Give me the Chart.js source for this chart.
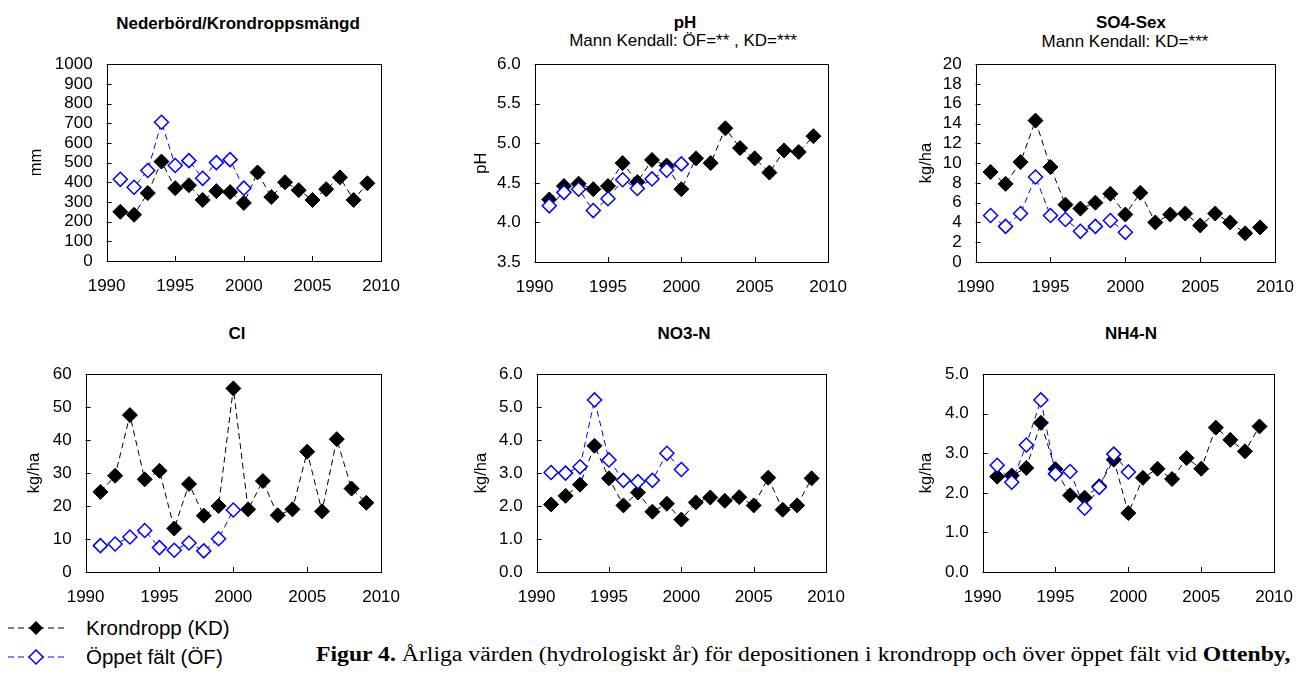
<!DOCTYPE html>
<html>
<head>
<meta charset="utf-8">
<script src="https://cdn.jsdelivr.net/npm/chart.js@4.4.0/dist/chart.umd.min.js"></script>
<style>
  body { margin: 0; background: #fff; font-family: "Liberation Sans", Arial, sans-serif; }
  #page { position: relative; width: 1302px; height: 675px; overflow: hidden; }
  .panel { position: absolute; }
  .lbl { position: absolute; transform: translate(-50%, -50%); white-space: nowrap; line-height: 1; color: #000; }
  .ttl { font-weight: bold; font-size: 17px; }
  .sub { font-size: 17px; }
  .leg { position: absolute; left: 8px; display: flex; align-items: center; font-size: 20.5px; }
  .leg svg { margin-right: 20px; }
  #caption { position: absolute; left: 316px; top: 643px; font-family: "Liberation Serif", "Times New Roman", serif; font-size: 20px; white-space: nowrap; transform-origin: 0 50%; }
</style>
</head>
<body>
<div id="page">
  <div class="lbl ttl" style="left:238px;top:23px">Nederbörd/Krondroppsmängd</div>
  <div class="lbl ttl" style="left:685px;top:22px">pH</div>
  <div class="lbl sub" style="left:683px;top:40px">Mann Kendall: ÖF=** , KD=***</div>
  <div class="lbl ttl" style="left:1131px;top:22px">SO4-Sex</div>
  <div class="lbl sub" style="left:1125px;top:41px">Mann Kendall: KD=***</div>
  <div class="lbl ttl" style="left:237px;top:333px">Cl</div>
  <div class="lbl ttl" style="left:684px;top:333px">NO3-N</div>
  <div class="lbl ttl" style="left:1131px;top:333px">NH4-N</div>

  <div class="panel" id="p1"><canvas id="c1"></canvas></div>
  <div class="panel" id="p2"><canvas id="c2"></canvas></div>
  <div class="panel" id="p3"><canvas id="c3"></canvas></div>
  <div class="panel" id="p4"><canvas id="c4"></canvas></div>
  <div class="panel" id="p5"><canvas id="c5"></canvas></div>
  <div class="panel" id="p6"><canvas id="c6"></canvas></div>

  <div class="leg" style="top:616px">
    <svg width="58" height="20"><line x1="0" y1="10" x2="58" y2="10" stroke="#000" stroke-width="1" stroke-dasharray="6,4"/><polygon points="28,3 35,10 28,17 21,10" fill="#000"/></svg>
    <span>Krondropp (KD)</span>
  </div>
  <div class="leg" style="top:645px">
    <svg width="58" height="20"><line x1="0" y1="10" x2="58" y2="10" stroke="#0000ff" stroke-width="1" stroke-dasharray="6,4"/><polygon points="28,3 35,10 28,17 21,10" fill="#fff" stroke="#0000ff" stroke-width="1.5"/></svg>
    <span>Öppet fält (ÖF)</span>
  </div>
  <div id="caption"><b>Figur 4.</b> Årliga värden (hydrologiskt år) för depositionen i krondropp och över öppet fält vid <b>Ottenby,</b></div>
</div>

<script>
const years = [1991, 1992, 1993, 1994, 1995, 1996, 1997, 1998, 1999, 2000, 2001, 2002, 2003, 2004, 2005, 2006, 2007, 2008, 2009]
const yearsOF = [1991, 1992, 1993, 1994, 1995, 1996, 1997, 1998, 1999, 2000]
const xTicks = [1990, 1995, 2000, 2005, 2010]

// Nederbörd / krondroppsmängd, mm
const nedKD = [250, 235, 345, 505, 370, 385, 310, 355, 350, 295, 450, 325, 400, 360, 310, 365, 425, 310, 395]
const nedOF = [415, 375, 460, 705, 485, 510, 420, 500, 515, 370]
// pH
const phKD = [4.29, 4.46, 4.49, 4.42, 4.46, 4.75, 4.51, 4.79, 4.72, 4.42, 4.81, 4.75, 5.19, 4.94, 4.81, 4.63, 4.91, 4.89, 5.09]
const phOF = [4.21, 4.38, 4.42, 4.15, 4.30, 4.54, 4.43, 4.55, 4.66, 4.74]
// SO4-S ex, kg/ha
const so4KD = [9.1, 7.9, 10.1, 14.3, 9.6, 5.8, 5.4, 6.0, 6.9, 4.8, 7.0, 4.0, 4.8, 4.9, 3.7, 4.9, 4.0, 2.9, 3.5]
const so4OF = [4.7, 3.6, 4.9, 8.6, 4.7, 4.3, 3.1, 3.6, 4.2, 3.0]
// Cl, kg/ha
const clKD = [24.3, 29.2, 47.6, 28.1, 30.7, 13.2, 26.7, 17.1, 20.0, 55.7, 19.0, 27.6, 17.2, 19.0, 36.5, 18.4, 40.3, 25.3, 21.0]
const clOF = [8.0, 8.5, 10.6, 12.6, 7.4, 6.6, 8.8, 6.4, 10.1, 18.8]
// NO3-N, kg/ha
const no3KD = [2.05, 2.31, 2.65, 3.83, 2.84, 2.02, 2.41, 1.83, 2.07, 1.59, 2.11, 2.26, 2.16, 2.27, 2.02, 2.86, 1.89, 2.02, 2.84]
const no3OF = [3.02, 3.00, 3.19, 5.22, 3.40, 2.78, 2.74, 2.78, 3.60, 3.11]
// NH4-N, kg/ha
const nh4KD = [2.41, 2.44, 2.63, 3.77, 2.60, 1.94, 1.88, 2.17, 2.84, 1.49, 2.38, 2.61, 2.35, 2.88, 2.61, 3.65, 3.34, 3.05, 3.68]
const nh4OF = [2.70, 2.27, 3.21, 4.35, 2.48, 2.54, 1.61, 2.14, 2.98, 2.53]

const panels = [
  { id: 1, kd: nedKD, of: nedOF, yTitle: 'mm', min: 0, max: 1000, step: 100, dec: 0, L: 107, R: 389, T: 52, B: 261, dx: 70 },
  { id: 2, kd: phKD, of: phOF, yTitle: 'pH', min: 3.5, max: 6, step: 0.5, dec: 1, L: 535, R: 836, T: 52, B: 262, dx: 53 },
  { id: 3, kd: so4KD, of: so4OF, yTitle: 'kg/ha', min: 0, max: 20, step: 2, dec: 0, L: 976, R: 1283, T: 52, B: 262, dx: 49 },
  { id: 4, kd: clKD, of: clOF, yTitle: 'kg/ha', min: 0, max: 60, step: 10, dec: 0, L: 86, R: 389, T: 362, B: 572, dx: 51 },
  { id: 5, kd: no3KD, of: no3OF, yTitle: 'kg/ha', min: 0, max: 6, step: 1, dec: 1, L: 537, R: 834, T: 362, B: 572, dx: 55 },
  { id: 6, kd: nh4KD, of: nh4OF, yTitle: 'kg/ha', min: 0, max: 5, step: 1, dec: 1, L: 983, R: 1282, T: 362, B: 572, dx: 56 }
]

const PAD_TOP = 12, PAD_RIGHT = 26, X_AXIS_H = 42

// box around plot area + short inward tick marks
const frame = {
  id: 'frame',
  beforeDatasetsDraw(chart) {
    const { ctx, chartArea: a, scales: { x, y } } = chart
    ctx.save()
    ctx.strokeStyle = '#000'
    ctx.lineWidth = 1
    ctx.strokeRect(Math.round(a.left) + 0.5, Math.round(a.top) + 0.5, Math.round(a.right - a.left), Math.round(a.bottom - a.top))
    ctx.beginPath()
    x.ticks.forEach(t => {
      const px = Math.round(x.getPixelForValue(t.value)) + 0.5
      ctx.moveTo(px, a.bottom)
      ctx.lineTo(px, a.bottom - 5)
    })
    y.ticks.forEach(t => {
      const py = Math.round(y.getPixelForValue(t.value)) + 0.5
      ctx.moveTo(a.left, py)
      ctx.lineTo(a.left + 5, py)
    })
    ctx.stroke()
    ctx.restore()
  }
}

panels.forEach(p => {
  const axisW = p.dx + 9.6
  const left = p.L - axisW
  const top = p.T - PAD_TOP
  const w = Math.round(p.R - left + PAD_RIGHT)
  const h = Math.round(p.B - top + X_AXIS_H)
  const div = document.getElementById('p' + p.id)
  div.style.left = left + 'px'
  div.style.top = top + 'px'
  const canvas = document.getElementById('c' + p.id)
  canvas.width = w
  canvas.height = h

  new Chart(canvas, {
    type: 'line',
    data: {
      datasets: [
        {
          label: 'Öppet fält (ÖF)',
          data: yearsOF.map((yr, i) => ({ x: yr, y: p.of[i] })),
          borderColor: '#0000ff',
          borderWidth: 1,
          borderDash: [6, 4],
          pointStyle: 'rectRot',
          pointRadius: 7,
          pointBackgroundColor: '#fff',
          pointBorderColor: '#0000ff',
          pointBorderWidth: 1.5
        },
        {
          label: 'Krondropp (KD)',
          data: years.map((yr, i) => ({ x: yr, y: p.kd[i] })),
          borderColor: '#000',
          borderWidth: 1,
          borderDash: [6, 4],
          pointStyle: 'rectRot',
          pointRadius: 7.5,
          pointBackgroundColor: '#000',
          pointBorderColor: '#000',
          pointBorderWidth: 1
        }
      ]
    },
    options: {
      responsive: false,
      animation: false,
      layout: { padding: { top: PAD_TOP, right: PAD_RIGHT, left: 0, bottom: 0 } },
      plugins: { legend: { display: false }, tooltip: { enabled: false }, title: { display: false } },
      scales: {
        x: {
          type: 'linear',
          min: 1990,
          max: 2010,
          afterBuildTicks: s => { s.ticks = xTicks.map(v => ({ value: v })) },
          afterFit: s => { s.height = X_AXIS_H },
          grid: { display: false, drawTicks: false },
          border: { display: false },
          ticks: { color: '#000', padding: 15, maxRotation: 0, autoSkip: false, font: { family: 'Liberation Sans', size: 17 }, callback: v => String(v) }
        },
        y: {
          min: p.min,
          max: p.max,
          afterFit: s => { s.width = axisW },
          grid: { display: false, drawTicks: false },
          border: { display: false },
          ticks: { color: '#000', padding: 14, stepSize: p.step, autoSkip: false, font: { family: 'Liberation Sans', size: 17 }, callback: v => Number(v).toFixed(p.dec) },
          title: { display: true, text: p.yTitle, color: '#000', padding: 0, font: { family: 'Liberation Sans', size: 16.5 } }
        }
      }
    },
    plugins: [frame]
  })
})

// stretch the caption to the width it has in the figure
const cap = document.getElementById('caption')
cap.style.transform = 'scaleX(' + (974 / cap.scrollWidth) + ')'
</script>
</body>
</html>
